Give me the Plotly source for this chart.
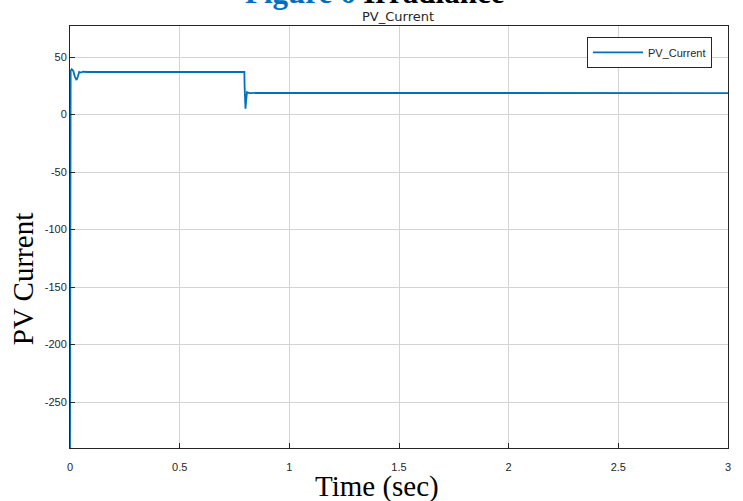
import plotly.graph_objects as go

time_s = [0, 0, 0.003, 0.008, 0.015, 0.022, 0.03, 0.036, 0.042, 0.05, 0.06, 0.08,
          0.795, 0.796, 0.798, 0.800, 0.803, 0.807, 0.812, 0.82, 0.85, 1.5, 2.2, 3.0]
pv_current = [-290, 0, 38, 39.5, 38, 33, 30, 33, 37, 36.5, 37.2, 37,
              37, 25, 8, 5, 12, 19.5, 19, 18.6, 18.8, 18.7, 18.8, 18.7]

x_ticks = [0, 0.5, 1, 1.5, 2, 2.5, 3]
x_tick_labels = ["0", "0.5", "1", "1.5", "2", "2.5", "3"]
y_ticks = [50, 0, -50, -100, -150, -200, -250]
y_tick_labels = ["50", "0", "-50", "-100", "-150", "-200", "-250"]

fig = go.Figure()
fig.add_trace(go.Scatter(
    x=time_s, y=pv_current, mode="lines", name="PV_Current",
    line=dict(color="#0072BD", width=1.8),
))

axis_common = dict(
    showgrid=True, gridcolor="#d4d4d4", gridwidth=1,
    showline=True, linecolor="#262626", linewidth=1, mirror=True,
    ticks="inside", ticklen=5, tickcolor="#262626",
    tickfont=dict(family="Arial, Liberation Sans", size=11, color="#262626"),
    zeroline=False,
)

fig.update_layout(
    width=743, height=501,
    margin=dict(l=70, r=15, t=26, b=53, autoexpand=False),
    paper_bgcolor="white", plot_bgcolor="white",
    showlegend=True,
    legend=dict(
        x=0.9757, y=0.974, xanchor="right", yanchor="top",
        bordercolor="#262626", borderwidth=1, bgcolor="white",
        font=dict(family="Arial, Liberation Sans", size=11, color="#262626"),
        itemwidth=50, tracegroupgap=0,
    ),
    xaxis=dict(range=[0, 3], tickvals=x_ticks, ticktext=x_tick_labels,
               ticklabelstandoff=9, **axis_common),
    yaxis=dict(range=[-290, 77], tickvals=y_ticks, ticktext=y_tick_labels, **axis_common),
    annotations=[
        dict(text="<b><span style='color:#0070C0'>Figure 6</span> Irradiance</b>",
             xref="paper", yref="paper", x=0.4635, y=1.0, yshift=14,
             xanchor="center", yanchor="bottom", showarrow=False,
             font=dict(family="Liberation Serif, Times New Roman", size=31, color="black")),
        dict(text="PV_Current", xref="paper", yref="paper", x=0.498, y=1.0,
             xanchor="center", yanchor="bottom", showarrow=False, yshift=0,
             font=dict(family="DejaVu Sans", size=13, color="#262626")),
        dict(text="Time (sec)", xref="paper", yref="paper", x=0.467, y=0, yshift=-57,
             xanchor="center", yanchor="bottom", showarrow=False,
             font=dict(family="Liberation Serif, Times New Roman", size=29, color="black")),
        dict(text="PV Current", xref="paper", yref="paper", x=0, xshift=-47, y=0.40,
             xanchor="center", yanchor="middle", showarrow=False, textangle=-90,
             font=dict(family="Liberation Serif, Times New Roman", size=29, color="black")),
    ],
)

fig.write_html("out.html", post_script="document.body.style.margin='0';",
               config={"displayModeBar": False})
